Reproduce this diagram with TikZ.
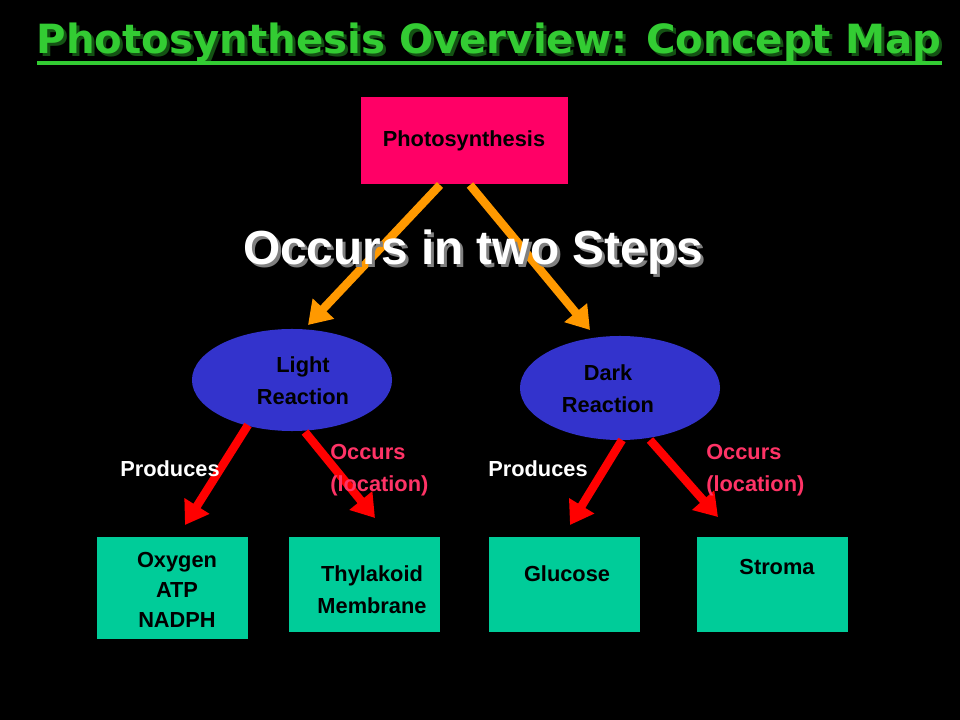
\documentclass[tikz,border=0pt]{standalone}
\usepackage{fontspec}
\setmainfont{Liberation Sans}
\newfontfamily\ttlfont{DejaVu Sans}
\usepackage{graphicx}
\usetikzlibrary{shapes.geometric,arrows.meta}
\definecolor{ttl}{HTML}{33CC33}
\definecolor{pinkbox}{HTML}{FF0066}
\definecolor{ell}{HTML}{3333CC}
\definecolor{teal}{HTML}{00CC99}
\definecolor{occ}{HTML}{FF3366}
\definecolor{org}{HTML}{FF9900}
\begin{document}
\begin{tikzpicture}[x=0.025cm,y=-0.025cm,
 txt/.style={font=\bfseries\fontsize{15.5}{22.5}\selectfont,align=center,inner sep=0pt},
 oarr/.style={org,line width=6pt,-{Triangle[length=16pt,width=20pt]}},
 rarr/.style={red,line width=6pt,-{Triangle[length=16pt,width=20pt]}},
 lab/.style={txt,align=left}]
\fill[black] (0,0) rectangle (960,720);
\node[text=black!60!ttl,inner sep=0pt,anchor=base] (ttlsh) at (492,57) {\resizebox{22.6cm}{!}{\ttlfont\bfseries Photosynthesis Overview: Concept Map}};
\node[text=ttl,inner sep=0pt,anchor=base] (ttl) at (489,54) {\resizebox{22.6cm}{!}{\ttlfont\bfseries Photosynthesis Overview: Concept Map}};
\draw[ttl,line width=2.5pt] (37,63) -- (942,63);
\fill[pinkbox] (361,97) rectangle (568,184);
\node[txt] (ph) at (464,141) {Photosynthesis};
\coordinate (pa) at (440,185); \coordinate (pb) at (470,185);
\node[fill=ell,ellipse,inner sep=0pt,minimum width=5cm,minimum height=2.55cm] (lr) at (292,380) {};
\node[txt] (lrt) at (303,381) {Light\\Reaction};
\node[fill=ell,ellipse,inner sep=0pt,minimum width=5cm,minimum height=2.6cm] (dr) at (620,388) {};
\node[txt] (drt) at (608,389) {Dark\\Reaction};
\draw[oarr] (pa) -- (308,325) coordinate (la);
\draw[oarr] (pb) -- (590,330) coordinate (da);
\node[text=gray,font=\bfseries\fontsize{34}{38}\selectfont] (stsh) at (476,255) {Occurs in two Steps};
\node[text=white,font=\bfseries\fontsize{34}{38}\selectfont] (st) at (473,252) {Occurs in two Steps};
\fill[teal] (97,537) rectangle (248,639);
\fill[teal] (289,537) rectangle (440,632);
\fill[teal] (489,537) rectangle (640,632);
\fill[teal] (697,537) rectangle (848,632);
\node[txt,font=\bfseries\fontsize{15.5}{21.5}\selectfont] (b1) at (177,590) {Oxygen\\ATP\\NADPH};
\node[txt] (b2) at (372,590) {Thylakoid\\Membrane};
\node[txt] (b3) at (567,574) {Glucose};
\node[txt] (b4) at (777,567) {Stroma};
\coordinate (r1s) at (248,425); \coordinate (r1e) at (185,525);
\coordinate (r2s) at (305,432); \coordinate (r2e) at (375,518);
\coordinate (r3s) at (622,440); \coordinate (r3e) at (570,525);
\coordinate (r4s) at (650,440); \coordinate (r4e) at (718,517);
\draw[rarr] (r1s) -- (r1e);
\draw[rarr] (r2s) -- (r2e);
\draw[rarr] (r3s) -- (r3e);
\draw[rarr] (r4s) -- (r4e);
\node[txt,text=white] (p1) at (170,469) {Produces};
\node[txt,text=white] (p2) at (538,469) {Produces};
\node[lab,text=occ,anchor=west] (o1) at (330,470) {Occurs\\(location)};
\node[lab,text=occ,anchor=west] (o2) at (706,470) {Occurs\\(location)};
\end{tikzpicture}
\end{document}
